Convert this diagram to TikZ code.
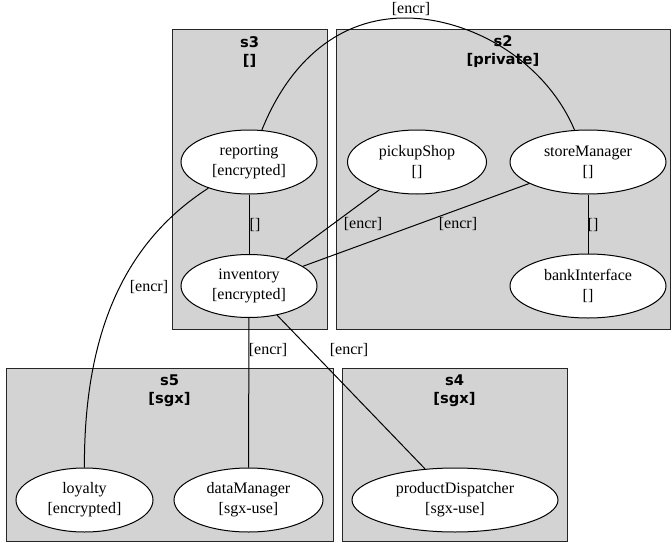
\documentclass[tikz,border=0pt]{standalone}
\usepackage{fontspec}
\setmainfont{Liberation Serif}
\newfontfamily\clusterfont{DejaVu Sans}
\usetikzlibrary{shapes.geometric}

\definecolor{clusterfill}{HTML}{D3D3D3}

\tikzset{
  cluster/.style={draw=black!85, fill=clusterfill, line width=1pt},
  clustertitle/.style={align=center, inner sep=0pt,
    font=\clusterfont\bfseries\fontsize{14.7}{18}\selectfont},
  comp/.style={ellipse, draw=black, fill=white, line width=1pt, inner sep=0pt,
    align=center, font=\fontsize{16}{20}\selectfont},
  link/.style={draw=black, line width=1pt},
  linklabel/.style={inner sep=0pt, font=\fontsize{16}{20}\selectfont},
}

\begin{document}
\begin{tikzpicture}[x=1pt,y=-1pt]
  \useasboundingbox (0,0) rectangle (672,543);

  % deployment zones
  \draw[cluster] (172,30) rectangle (327,329);
  \draw[cluster] (336,30) rectangle (670,329);
  \draw[cluster] (6,368) rectangle (333,541);
  \draw[cluster] (342,368) rectangle (567,541);

  \node[clustertitle] (t3) at (249.5,52) {s3\\{[]}};
  \node[clustertitle] (t2) at (503,52) {s2\\{[private]}};
  \node[clustertitle] (t5) at (169.5,391) {s5\\{[sgx]}};
  \node[clustertitle] (t4) at (454.5,391) {s4\\{[sgx]}};

  % components
  \node[comp, minimum width=136pt, minimum height=64pt] (reporting) at (249,162) {reporting\\{[encrypted]}};
  \node[comp, minimum width=136pt, minimum height=63pt] (inventory) at (249,286) {inventory\\{[encrypted]}};
  \node[comp, minimum width=139pt, minimum height=64pt] (pickupShop) at (417,162) {pickupShop\\{[]}};
  \node[comp, minimum width=156pt, minimum height=64pt] (storeManager) at (588,162) {storeManager\\{[]}};
  \node[comp, minimum width=156pt, minimum height=64pt] (bankInterface) at (588,286) {bankInterface\\{[]}};
  \node[comp, minimum width=137pt, minimum height=64pt] (loyalty) at (84.5,500) {loyalty\\{[encrypted]}};
  \node[comp, minimum width=149pt, minimum height=64pt] (dataManager) at (248.5,500) {dataManager\\{[sgx-use]}};
  \node[comp, minimum width=206pt, minimum height=64pt] (productDispatcher) at (455,500) {productDispatcher\\{[sgx-use]}};

  % connections
  \draw[link] (reporting) .. controls (290,60) and (340,18) .. (405,18)
                          .. controls (470,18) and (545,60) .. (storeManager);
  \draw[link] (reporting) -- (inventory);
  \draw[link] (pickupShop) -- (inventory);
  \draw[link] (storeManager) -- (inventory);
  \draw[link] (storeManager) -- (bankInterface);
  \draw[link] (reporting) .. controls (120,245) and (84,340) .. (loyalty);
  \draw[link] (inventory) -- (dataManager);
  \draw[link] (inventory) -- (productDispatcher);

  % connection labels
  \node[linklabel] (l1) at (411,9) {[encr]};
  \node[linklabel] (l2) at (255,225) {[]};
  \node[linklabel] (l3) at (363,224) {[encr]};
  \node[linklabel] (l4) at (458,224) {[encr]};
  \node[linklabel] (l5) at (593,225) {[]};
  \node[linklabel] (l6) at (149,287) {[encr]};
  \node[linklabel] (l7) at (268,350) {[encr]};
  \node[linklabel] (l8) at (349,350) {[encr]};
\end{tikzpicture}
\end{document}
